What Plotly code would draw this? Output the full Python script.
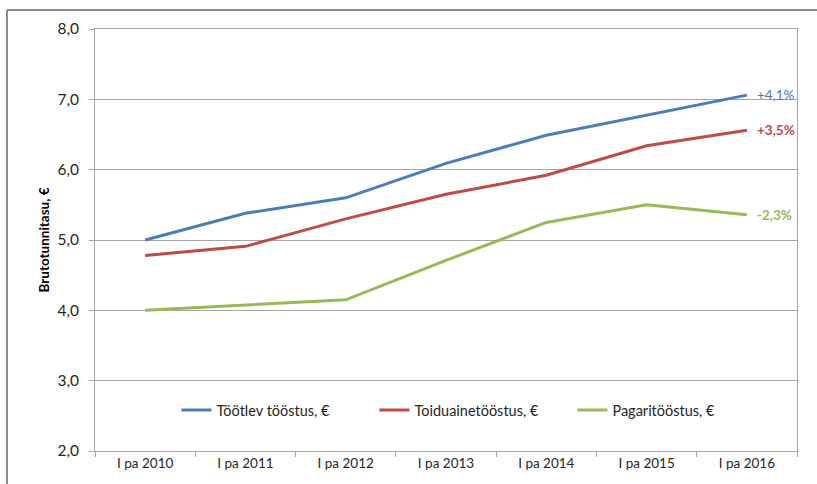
import plotly.graph_objects as go

categories = ["I pa 2010", "I pa 2011", "I pa 2012", "I pa 2013", "I pa 2014", "I pa 2015", "I pa 2016"]
tootlev = [5.00, 5.38, 5.60, 6.09, 6.49, 6.77, 7.06]
toiduaine = [4.78, 4.91, 5.30, 5.65, 5.92, 6.34, 6.56]
pagari = [4.00, 4.08, 4.15, 4.71, 5.25, 5.50, 5.36]
series_names = ["Töötlev tööstus, €", "Toiduainetööstus, €", "Pagaritööstus, €"]
change_labels = ["+4,1%", "+3,5%", "-2,3%"]
y_ticks = [2, 3, 4, 5, 6, 7, 8]
y_tick_labels = ["2,0", "3,0", "4,0", "5,0", "6,0", "7,0", "8,0"]

colors = ["#4A7EBB", "#BE4B48", "#98B954"]
label_colors = ["#4F74AE", "#BE4B48", "#98B954"]
FONT = "Lato"

fig = go.Figure()
for name, vals, col in zip(series_names, [tootlev, toiduaine, pagari], colors):
    fig.add_trace(go.Scatter(x=categories, y=vals, mode="lines", name=name,
                             line=dict(color=col, width=3)))

for vals, lab, col, bold in zip([tootlev, toiduaine, pagari], change_labels, label_colors, [False, True, True]):
    fig.add_annotation(x=categories[-1], y=vals[-1], xref="x", yref="y",
                       text=f"<b>{lab}</b>" if bold else lab, showarrow=False,
                       xanchor="left", yanchor="middle", xshift=8,
                       font=dict(family=FONT, size=13.5, color=col))

# outer chart border (left and top)
fig.add_shape(type="line", xref="paper", yref="paper", x0=-0.1254, x1=-0.1254, y0=1.045, y1=-0.2,
              line=dict(color="#8C8C8C", width=2))
fig.add_shape(type="line", xref="paper", yref="paper", x0=-0.1254, x1=1.1, y0=1.045, y1=1.045,
              line=dict(color="#8C8C8C", width=2))

fig.update_layout(
    width=817, height=484,
    margin=dict(l=95, r=20, t=29, b=33),
    paper_bgcolor="white", plot_bgcolor="white",
    font=dict(family=FONT, size=13, color="#262626"),
    showlegend=True,
    legend=dict(orientation="h", x=0.116, y=0.097, xanchor="left", yanchor="middle",
                bgcolor="rgba(0,0,0,0)", font=dict(family=FONT, size=14.5, color="#262626"),
                itemwidth=30, entrywidth=153, entrywidthmode="pixels"),
    xaxis=dict(type="category", range=[-0.5, 6.5], showgrid=False, showline=True,
               linecolor="#A6A6A6", linewidth=1, mirror=True, ticks="outside", tickson="boundaries",
               ticklen=5, tickcolor="#A6A6A6", tickfont=dict(family=FONT, size=13.5, color="#262626")),
    yaxis=dict(range=[2, 8], tickvals=y_ticks, ticktext=y_tick_labels, showgrid=True,
               gridcolor="#A6A6A6", gridwidth=1, showline=True, linecolor="#A6A6A6", linewidth=1,
               mirror=True, ticks="outside", ticklen=5, tickcolor="#A6A6A6", zeroline=False,
               ticklabelstandoff=7,
               tickfont=dict(family=FONT, size=15.5, color="#262626"),
               title=dict(text="<b>Brutotunnitasu, €</b>", font=dict(family=FONT, size=13.5, color="#000000"),
                          standoff=4)),
)

fig.write_html("out.html", config={"displayModeBar": False},
               post_script="document.body.style.margin='0';")
